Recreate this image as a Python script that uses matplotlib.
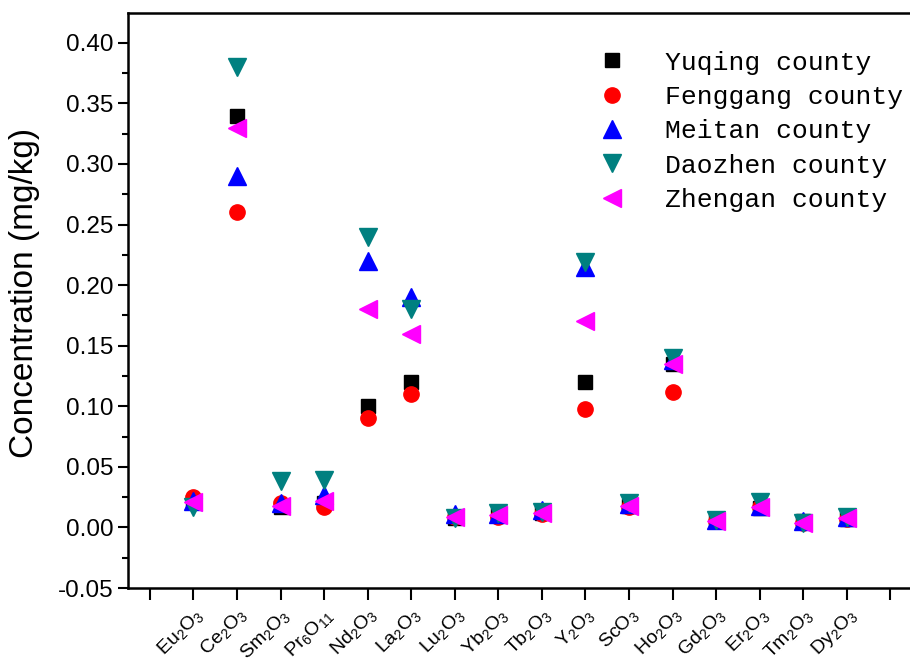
import matplotlib
matplotlib.use('Agg')
import matplotlib.pyplot as plt

# Data
oxides = ['Eu$_2$O$_3$', 'Ce$_2$O$_3$', 'Sm$_2$O$_3$', 'Pr$_6$O$_{11}$', 'Nd$_2$O$_3$',
          'La$_2$O$_3$', 'Lu$_2$O$_3$', 'Yb$_2$O$_3$', 'Tb$_2$O$_3$', 'Y$_2$O$_3$',
          'ScO$_3$', 'Ho$_2$O$_3$', 'Gd$_2$O$_3$', 'Er$_2$O$_3$', 'Tm$_2$O$_3$', 'Dy$_2$O$_3$']
yuqing = [0.021, 0.34, 0.017, 0.020, 0.10, 0.12, 0.008, 0.010, 0.012, 0.12, 0.018, 0.135, 0.005, 0.016, 0.005, 0.007]
fenggang = [0.025, 0.26, 0.020, 0.017, 0.09, 0.11, 0.009, 0.009, 0.011, 0.098, 0.017, 0.112, 0.005, 0.017, 0.004, 0.007]
meitan = [0.022, 0.29, 0.020, 0.027, 0.22, 0.19, 0.011, 0.011, 0.014, 0.215, 0.019, 0.138, 0.006, 0.018, 0.005, 0.009]
daozhen = [0.017, 0.38, 0.038, 0.039, 0.24, 0.18, 0.008, 0.012, 0.013, 0.219, 0.020, 0.140, 0.006, 0.021, 0.004, 0.009]
zhengan = [0.021, 0.33, 0.018, 0.022, 0.18, 0.16, 0.009, 0.010, 0.012, 0.17, 0.018, 0.135, 0.005, 0.017, 0.004, 0.008]

plt.rcParams['font.family'] = ['Liberation Sans', 'DejaVu Sans']
plt.rcParams['mathtext.fontset'] = 'custom'
plt.rcParams['mathtext.rm'] = 'Liberation Sans'

fig = plt.figure(figsize=(9.1, 6.63), dpi=100)
ax = fig.add_axes([0.1407, 0.1131, 0.8593, 0.868])

x = list(range(1, len(oxides) + 1))
ax.plot(x, yuqing, 's', color='black', ms=9.5, label='Yuqing county')
ax.plot(x, fenggang, 'o', color='red', ms=11, label='Fenggang county')
ax.plot(x, meitan, '^', color='blue', ms=13, label='Meitan county')
ax.plot(x, daozhen, 'v', color='#008080', ms=13, label='Daozhen county')
ax.plot(x, zhengan, '<', color='#ff00ff', ms=13, label='Zhengan county')

ax.set_xlim(-0.5, 17.45)
ax.set_ylim(-0.05, 0.425)
ax.set_xticks(range(0, 18))
ax.set_xticklabels([''] + oxides + [''], rotation=45, ha='right',
                   rotation_mode='anchor', fontsize=14)
ax.set_yticks([-0.05 + 0.05 * i for i in range(10)])
ax.set_yticklabels(['%.2f' % (-0.05 + 0.05 * i) for i in range(10)], fontsize=17.5)
ax.set_yticks([-0.025 + 0.05 * i for i in range(9)], minor=True)
ax.tick_params(axis='y', which='major', length=7, width=1.5, direction='out')
ax.tick_params(axis='y', which='minor', length=4, width=1.5, direction='out')
ax.tick_params(axis='x', which='major', length=8.5, width=1.5, direction='out', pad=4)

for side in ['left', 'bottom', 'top']:
    ax.spines[side].set_linewidth(1.8)
ax.spines['right'].set_visible(False)

ax.set_ylabel('Concentration (mg/kg)', fontsize=24)
ax.yaxis.set_label_coords(-0.112, 0.513)

ax.legend(loc='upper right', frameon=False, prop={'family': 'Liberation Mono', 'size': 19},
          handletextpad=1.0, labelspacing=0.39, borderaxespad=0.0,
          bbox_to_anchor=(1.005, 0.952))

fig.savefig('out.png', dpi=100)
